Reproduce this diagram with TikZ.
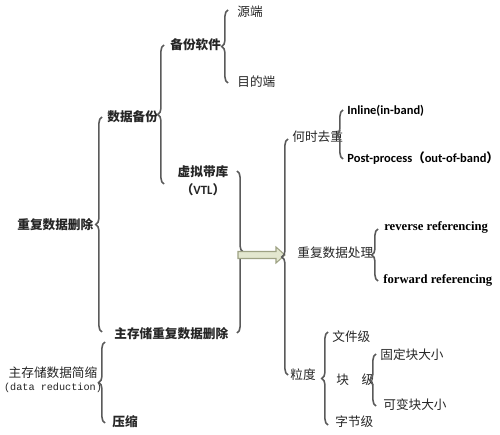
\documentclass[tikz,border=0pt]{standalone}
\usepackage{fontspec}
\setmainfont{Liberation Serif}
\newfontfamily\cjk{Noto Sans CJK SC}
\newfontfamily\calib{Carlito}
\newfontfamily\cmono{Liberation Mono}
\usetikzlibrary{decorations.pathreplacing,calc,positioning}
\definecolor{bracegray}{HTML}{5A5A5A}
\definecolor{arrowfill}{HTML}{E3E7CF}
\definecolor{arrowline}{HTML}{9EA284}
\tikzset{
  zh/.style={anchor=west, inner sep=0pt, font=\cjk\fontsize{7.2}{8.5}\selectfont, text=black!85},
  zhb/.style={zh, font=\cjk\bfseries\fontsize{7.2}{8.5}\selectfont},
  enb/.style={anchor=west, inner sep=0pt, font=\calib\bfseries\fontsize{7.1}{9}\selectfont},
  ens/.style={anchor=west, inner sep=0pt, font=\bfseries\fontsize{7.2}{9}\selectfont},
  lbrace/.style={draw=bracegray, line width=0.9pt,
    decorate, decoration={brace, amplitude=3.5pt}},
}
\begin{document}
\begin{tikzpicture}[x=0.02cm, y=-0.02cm]
\useasboundingbox[fill=white] (0,0) rectangle (500,435);

% left column
\node[zhb] (dedup) at (17,225) {重复数据删除};
\node[zh, align=center, anchor=center] (reduce) at (53,380)
  {主存储数据简缩\\[-1pt]{\cmono\fontsize{5.8}{7}\selectfont(data reduction)}};

% second level
\node[zhb] (backup) at (107,117) {数据备份};
\node[zhb] (primded) at (114,334) {主存储重复数据删除};
\node[zhb] (compress) at (112,422) {压缩};

% third level
\node[zhb] (software) at (170,45) {备份软件};
\node[zhb, align=center, anchor=north] (vtl) at (203,165)
  {虚拟带库\\[2pt]（{\calib\bfseries VTL}）};
\node[zh] (src) at (237,12) {源端};
\node[zh] (dst) at (237,82) {目的端};

% braces, left part
\coordinate (b1t) at (228,10);  \coordinate (b1b) at (228,83);
\coordinate (b2t) at (164,45);  \coordinate (b2b) at (164,184);
\coordinate (b3t) at (102,117); \coordinate (b3b) at (102,332);
\coordinate (b4t) at (105,342); \coordinate (b4b) at (105,423);
\coordinate (b5t) at (237,171); \coordinate (b5b) at (237,333);
\draw[lbrace] (b1b) -- (b1t);
\draw[lbrace] (b2b) -- (b2t);
\draw[lbrace] (b3b) -- (b3t);
\draw[lbrace] (b4b) -- (b4t);
\draw[lbrace] (b5t) -- (b5b);

% fat arrow
\coordinate (arrS) at (238,255);
\coordinate (arrE) at (285,255);
\draw[arrowline, fill=arrowfill, line width=0.6pt]
  ($(arrS)+(0,-3.5)$) -- ($(arrE)+(-9,-3.5)$) -- ($(arrE)+(-9,-8)$) -- (arrE)
  -- ($(arrE)+(-9,8)$) -- ($(arrE)+(-9,3.5)$) -- ($(arrS)+(0,3.5)$) -- cycle;

% right part
\node[zh] (when) at (292,137) {何时去重};
\node[zh] (handle) at (297,253) {重复数据处理};
\node[zh] (grain) at (290,375) {粒度};
\node[enb] (inline) at (347,111) {Inline(in-band)};
\node[enb] (post) at (347,158) {Post-process{\cjk\bfseries （}out-of-band{\cjk\bfseries ）}};
\node[ens] (rev) at (384,227) {reverse referencing};
\node[ens] (fwd) at (383,280) {forward referencing};
\node[zh] (file) at (332,337) {文件级};
\node[zh] (block) at (336,380) {块\hspace{1em}级};
\node[zh] (byte) at (335,422) {字节级};
\node[zh] (fixed) at (380,355) {固定块大小};
\node[zh] (var) at (383,405) {可变块大小};

\coordinate (c1t) at (288,139); \coordinate (c1b) at (288,375);
\coordinate (c2t) at (343,110); \coordinate (c2b) at (343,159);
\coordinate (c3t) at (378,229); \coordinate (c3b) at (378,281);
\coordinate (c4t) at (328,332); \coordinate (c4b) at (328,425);
\coordinate (c5t) at (376,354); \coordinate (c5b) at (376,406);
\draw[lbrace] (c1b) -- (c1t);
\draw[lbrace] (c2b) -- (c2t);
\draw[lbrace] (c3b) -- (c3t);
\draw[lbrace] (c4b) -- (c4t);
\draw[lbrace] (c5b) -- (c5t);
\end{tikzpicture}
\end{document}
